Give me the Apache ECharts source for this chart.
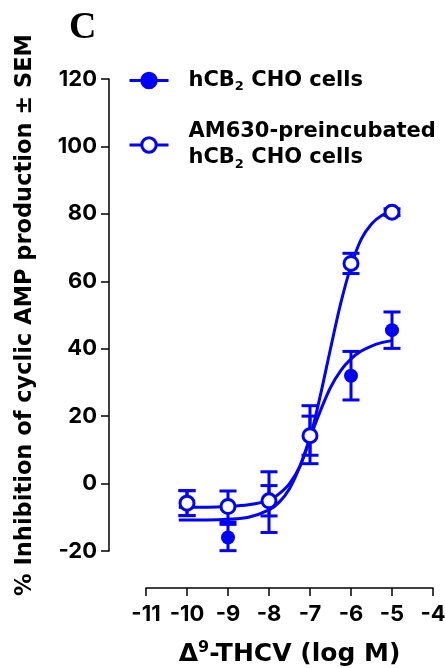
<!DOCTYPE html>
<html>
<head>
<meta charset="utf-8">
<script src="https://cdn.jsdelivr.net/npm/echarts@6/dist/echarts.min.js"></script>
<style>
  html, body { margin: 0; padding: 0; background: #fff; }
  #chart { width: 445px; height: 668px; }
</style>
</head>
<body>
<div id="chart"></div>
<script>
// log concentrations of Δ9-THCV
const doses = [-10, -9, -8, -7, -6, -5];

// hCB2 CHO cells (filled circles)
const hcb2Mean = [-5.8, -16, -5.5, 14.5, 32, 45.5];
const hcb2Sem = [3.7, 3.9, 9, 8.6, 7.2, 5.4];

// AM630-preincubated hCB2 CHO cells (open circles)
const am630Mean = [-5.8, -6.8, -5.1, 14.2, 65.3, 80.5];
const am630Sem = [3.7, 4.6, 4.5, 5.8, 3, 1];

// fitted curves
const fitX = [-10.2, -10, -9.5, -9, -8.5, -8, -7.75, -7.5, -7.25, -7, -6.75, -6.5, -6.25, -6, -5.75, -5.5, -5.25, -5];
const hcb2Fit = [-10.8, -10.8, -10.8, -10.6, -10, -7.8, -5.5, -1.5, 5, 13.5, 21.5, 28.5, 33.5, 37, 39.3, 40.8, 41.8, 42.4];
const am630Fit = [-7, -7, -7, -6.8, -6.3, -5, -3, 0, 5, 13.5, 26, 40, 53.5, 64.5, 72.5, 77, 79.5, 80.7];

const xTicks = [-11, -10, -9, -8, -7, -6, -5, -4];
const yTicks = [-20, 0, 20, 40, 60, 80, 100, 120];

const names = ["hCB2 CHO cells", "AM630-preincubated hCB2 CHO cells"];

const BLUE = "#0000ff";
const FONT = "DejaVu Sans, Verdana, sans-serif";
const NUM_FONT = "Inter, Liberation Sans, Arial, sans-serif";

const pairs = (xs, ys) => xs.map((x, i) => [x, ys[i]]);
const bars = (m, s) => doses.map((d, i) => [d, m[i], s[i]]);

function errorBar(params, api) {
  const x = api.value(0);
  const m = api.value(1);
  const s = api.value(2);
  const top = api.coord([x, m + s]);
  const bot = api.coord([x, m - s]);
  const hw = 8.5;
  const style = { stroke: BLUE, lineWidth: 3 };
  return {
    type: "group",
    children: [
      { type: "line", shape: { x1: top[0], y1: top[1], x2: bot[0], y2: bot[1] }, style },
      { type: "line", shape: { x1: top[0] - hw, y1: top[1], x2: top[0] + hw, y2: top[1] }, style },
      { type: "line", shape: { x1: bot[0] - hw, y1: bot[1], x2: bot[0] + hw, y2: bot[1] }, style }
    ]
  };
}

const chart = echarts.init(document.getElementById("chart"));

const richText = {
  b: { fontSize: 21, fontWeight: "bold", fontFamily: FONT, color: "#000", lineHeight: 26 },
  s: { fontSize: 13, fontWeight: "bold", fontFamily: FONT, color: "#000", lineHeight: 10, verticalAlign: "bottom" },
  g: { width: 15 }
};

chart.setOption({
  animation: false,
  title: {
    text: "C",
    left: 64,
    top: 4,
    textStyle: { fontFamily: "Liberation Serif, Times New Roman, serif", fontWeight: "bold", fontSize: 38, color: "#000" }
  },
  legend: {
    orient: "vertical",
    left: 128,
    top: 70,
    padding: 0,
    itemGap: 28,
    itemWidth: 39,
    itemHeight: 18,
    data: names,
    lineStyle: { width: 3, color: BLUE, opacity: 1 },
    itemStyle: { borderWidth: 3, borderColor: BLUE },
    formatter: function (name) {
      if (name === names[0]) return "{g|}{b|hCB}{s|2}{b| CHO cells}";
      return "{g|}{b|AM630-preincubated}\n{g|}{b|hCB}{s|2}{b| CHO cells}";
    },
    textStyle: { rich: richText }
  },
  grid: { left: 146, right: 12, top: 79, bottom: 117, outerBoundsMode: "none" },
  xAxis: {
    type: "value",
    min: -11,
    max: -4,
    interval: 1,
    offset: 37,
    name: "{d|Δ}{p|9}{d|-THCV (log M)}",
    nameLocation: "middle",
    nameGap: 52,
    nameTextStyle: {
      verticalAlign: "top",
      rich: {
        d: { fontSize: 25, fontWeight: "bold", fontFamily: FONT, color: "#000", lineHeight: 28 },
        p: { fontSize: 16, fontWeight: "bold", fontFamily: FONT, color: "#000", lineHeight: 12, verticalAlign: "top" }
      }
    },
    splitLine: { show: false },
    axisLine: { onZero: false, lineStyle: { color: "#000", width: 1.5 } },
    axisTick: { length: 8, lineStyle: { color: "#000", width: 1.5 } },
    axisLabel: {
      margin: 15,
      fontSize: 22,
      fontWeight: "bold",
      fontFamily: NUM_FONT,
      color: "#000",
      formatter: v => (xTicks.includes(v) ? String(v) : "")
    }
  },
  yAxis: {
    type: "value",
    min: -20,
    max: 120,
    interval: 20,
    offset: 37,
    name: "% Inhibition of cyclic AMP production ± SEM",
    nameLocation: "middle",
    nameGap: 72,
    nameTextStyle: { fontSize: 22.5, fontWeight: "bold", fontFamily: FONT, color: "#000" },
    splitLine: { show: false },
    axisLine: { onZero: false, lineStyle: { color: "#000", width: 1.5 } },
    axisTick: { length: 8, lineStyle: { color: "#000", width: 1.5 } },
    axisLabel: {
      margin: 12,
      fontSize: 22,
      fontWeight: "bold",
      fontFamily: NUM_FONT,
      color: "#000",
      formatter: v => (yTicks.includes(v) ? String(v) : "")
    }
  },
  series: [
    {
      name: "hCB2 err",
      type: "custom",
      renderItem: errorBar,
      data: bars(hcb2Mean, hcb2Sem),
      encode: { x: 0, y: 1 },
      z: 2,
      silent: true
    },
    {
      name: "AM630 err",
      type: "custom",
      renderItem: errorBar,
      data: bars(am630Mean, am630Sem),
      encode: { x: 0, y: 1 },
      z: 2,
      silent: true
    },
    {
      name: "hCB2 fit",
      type: "line",
      data: pairs(fitX, hcb2Fit),
      smooth: 0.3,
      symbol: "none",
      lineStyle: { color: BLUE, width: 3 },
      z: 3,
      silent: true
    },
    {
      name: "AM630 fit",
      type: "line",
      data: pairs(fitX, am630Fit),
      smooth: 0.3,
      symbol: "none",
      lineStyle: { color: BLUE, width: 3 },
      z: 3,
      silent: true
    },
    {
      name: names[0],
      type: "line",
      data: pairs(doses, hcb2Mean),
      symbol: "circle",
      symbolSize: 14,
      showAllSymbol: true,
      lineStyle: { opacity: 0 },
      itemStyle: { color: BLUE, borderColor: BLUE, borderWidth: 0 },
      z: 4,
      silent: true
    },
    {
      name: names[1],
      type: "line",
      data: pairs(doses, am630Mean),
      symbol: "circle",
      symbolSize: 14,
      showAllSymbol: true,
      lineStyle: { opacity: 0 },
      itemStyle: { color: "#fff", borderColor: BLUE, borderWidth: 3 },
      z: 5,
      silent: true
    }
  ]
});
</script>
</body>
</html>
